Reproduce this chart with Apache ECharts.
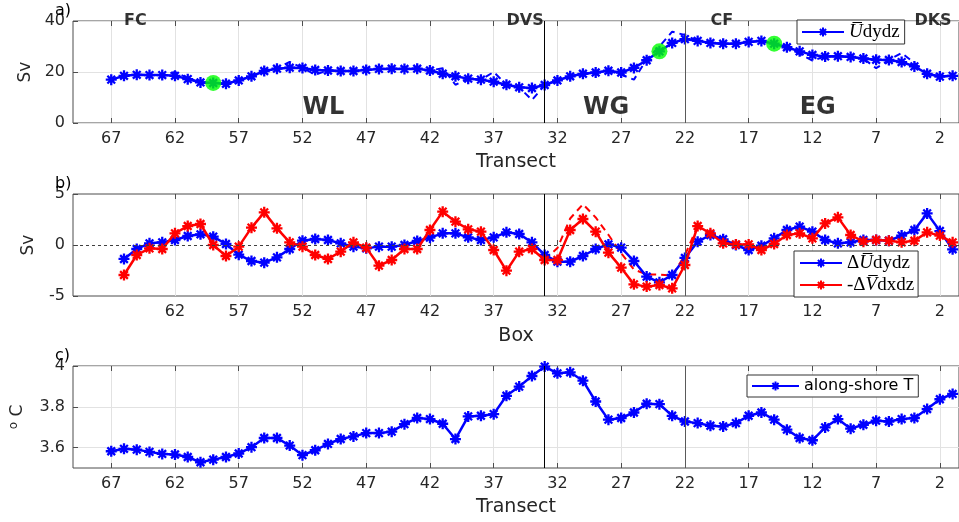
<!DOCTYPE html>
<html><head><meta charset="utf-8">
<script src="https://cdn.jsdelivr.net/npm/echarts@6/dist/echarts.min.js"></script>
<style>html,body{margin:0;padding:0;background:#fff}#c{width:959px;height:522px}</style>
</head><body><div id="c"></div>
<script>
// ---------- data ----------
const transects = [67,66,65,64,63,62,61,60,59,58,57,56,55,54,53,52,51,50,49,48,47,46,45,44,43,42,41,40,39,38,37,36,35,34,33,32,31,30,29,28,27,26,25,24,23,22,21,20,19,18,17,16,15,14,13,12,11,10,9,8,7,6,5,4,3,2,1];
const boxes = [66,65,64,63,62,61,60,59,58,57,56,55,54,53,52,51,50,49,48,47,46,45,44,43,42,41,40,39,38,37,36,35,34,33,32,31,30,29,28,27,26,25,24,23,22,21,20,19,18,17,16,15,14,13,12,11,10,9,8,7,6,5,4,3,2,1];

// panel a: mean transport (Sv), transects 67..1
const Udydz = [17.0,18.5,18.9,18.8,18.8,18.5,17.2,15.9,15.7,15.4,16.7,18.3,20.4,21.3,21.7,21.6,20.8,20.6,20.4,20.4,20.8,21.2,21.3,21.2,21.3,20.6,19.3,18.3,17.4,17.0,16.2,15.0,14.0,13.7,14.9,16.7,18.3,19.3,19.8,20.5,19.8,21.6,24.6,28.1,31.4,32.9,32.2,31.4,31.1,31.1,31.8,32.2,31.1,29.7,28.1,26.7,26.1,26.2,25.9,25.3,24.8,24.7,23.9,22.2,19.3,18.2,18.5];
// panel a: dashed companion line (mostly hidden under the solid line)
const UdydzAlt = [17.0,18.5,18.9,18.8,18.8,20.0,17.6,15.9,15.7,15.4,16.7,18.3,20.4,21.3,24.0,21.6,19.0,20.6,20.4,20.4,20.8,21.2,21.3,21.2,21.3,20.6,21.5,15.0,17.4,17.0,20.0,15.0,14.0,9.0,14.9,16.7,18.3,19.3,19.8,20.5,19.0,17.0,25.0,30.0,35.8,34.5,32.2,31.4,31.1,31.1,31.8,32.2,31.1,29.7,27.0,24.5,26.1,26.2,25.9,25.3,21.5,24.7,27.5,23.5,19.3,18.2,18.5];
// green highlighted transects
const markTransects = [59,24,15];
const markValues = [15.7,28.1,31.1];

// panel b: boxes 66..1
const dUdydz = [-1.37,-0.39,0.16,0.26,0.49,0.88,1.05,0.82,0.10,-0.95,-1.57,-1.73,-1.21,-0.39,0.42,0.59,0.49,0.16,-0.16,-0.33,-0.16,-0.16,0.00,0.39,0.72,1.14,1.14,0.75,0.49,0.75,1.24,1.08,0.26,-0.98,-1.63,-1.63,-1.08,-0.39,0.06,-0.26,-1.57,-3.10,-3.66,-2.94,-1.27,0.33,0.98,0.56,0.00,-0.49,-0.07,0.65,1.47,1.80,1.31,0.49,0.16,0.26,0.49,0.49,0.42,0.92,1.47,3.10,1.37,-0.42];
const dVdxdz = [-2.94,-0.98,-0.33,-0.39,1.14,1.86,2.06,0.00,-1.08,-0.16,1.70,3.20,1.63,0.26,-0.16,-0.98,-1.37,-0.65,0.26,-0.26,-2.03,-1.47,-0.39,-0.39,1.47,3.27,2.29,1.54,1.31,-0.49,-2.52,-0.65,-0.39,-1.47,-1.47,1.47,2.55,1.31,-0.75,-2.22,-3.86,-4.08,-3.92,-4.25,-1.96,1.86,1.14,0.16,0.06,0.06,-0.49,0.10,0.98,1.14,0.65,2.12,2.71,0.98,0.33,0.49,0.42,0.26,0.42,1.24,0.92,0.26];
// dashed companion of the red line
const altBoxes = [33,32,31,30,29,28,27,26,25,24,23,22,21];
const dVdxdzAlt = [-1.47,-0.3,2.6,4.0,2.7,1.0,-0.8,-2.4,-2.9,-2.9,-3.0,-1.0,1.86];

// panel c: along-shore temperature (deg C), transects 67..1
const alongShoreT = [3.582,3.594,3.590,3.579,3.569,3.566,3.554,3.528,3.541,3.554,3.571,3.602,3.647,3.647,3.610,3.563,3.587,3.618,3.642,3.655,3.671,3.671,3.678,3.715,3.745,3.740,3.717,3.642,3.753,3.756,3.764,3.854,3.899,3.951,3.997,3.964,3.969,3.928,3.826,3.737,3.745,3.772,3.815,3.813,3.756,3.728,3.720,3.707,3.704,3.720,3.756,3.772,3.737,3.688,3.647,3.636,3.699,3.740,3.693,3.712,3.732,3.728,3.740,3.745,3.789,3.837,3.863];

// ticks & annotations
const xTicks = [67,62,57,52,47,42,37,32,27,22,17,12,7,2];
const xTicksBox = [62,57,52,47,42,37,32,27,22,17,12,7,2];
const tTicks = [3.6,3.8,4];
const sectionLines = [33,22];
const topNames = ['FC','DVS','CF','DKS'];
const topAt = [66,36,20,4];
const regionNames = ['WL','WG','EG'];
const regionAt = [52,30,13];

// ---------- styles ----------
const FONT = 'DejaVu Sans';
const TXT = '#262626';
const BORDER = '#4d4d4d';
const GRIDC = '#e2e2e2';
const AST = 'path://M5,0L5,10M0,5L10,5M1.5,1.5L8.5,8.5M1.5,8.5L8.5,1.5';
const grids = [
  {left:73, right:0, top:21, height:102},
  {left:73, right:0, top:194, height:102},
  {left:73, right:0, top:366, height:102}
];

function xBottom(gi, ticks, name, gap) {
  return {type:'value', gridIndex:gi, inverse:true, min:0.5, max:70, position:'bottom',
    name:name, nameLocation:'middle', nameGap:gap,
    nameTextStyle:{fontSize:19, color:TXT, fontFamily:FONT},
    axisLine:{show:false},
    axisTick:{show:true, inside:true, length:5, customValues:ticks, lineStyle:{color:BORDER}},
    axisLabel:{customValues:ticks, fontSize:16, color:TXT, margin:8, fontFamily:FONT},
    splitLine:{show:true, lineStyle:{color:GRIDC, width:1}}};
}
function xTop(gi, ticks) {
  return {type:'value', gridIndex:gi, inverse:true, min:0.5, max:70, position:'top',
    axisLine:{show:false},
    axisTick:{show:true, inside:true, length:5, customValues:ticks, lineStyle:{color:BORDER}},
    axisLabel:{show:false}, splitLine:{show:false}};
}
function lineSeries(name, xi, yi, xs, ys, color, extra) {
  return Object.assign({
    type:'line', name:name, xAxisIndex:xi, yAxisIndex:yi,
    data: xs.map((x,i)=>[x, ys[i]]),
    symbol:AST, symbolSize:11, showSymbol:true,
    lineStyle:{color:color, width:2.5},
    itemStyle:{color:color, borderColor:color, borderWidth:2.3},
    emphasis:{disabled:true}, z:3, animation:false
  }, extra||{});
}
function sectionMark() {
  return {silent:true, symbol:'none', label:{show:false},
    data:[{xAxis:sectionLines[0], lineStyle:{color:'#000', width:1, type:'solid'}},
          {xAxis:sectionLines[1], lineStyle:{color:'#5a5a5a', width:1, type:'solid'}}]};
}
function textSeries(names, at, y, size) {
  return {type:'scatter', xAxisIndex:0, yAxisIndex:0, clip:false, silent:true,
    symbolSize:0.1, itemStyle:{color:'rgba(0,0,0,0)'},
    data: names.map((n,i)=>({name:n, value:[at[i], y]})),
    label:{show:true, position:'right', distance:0, formatter:'{b}', color:'#000',
      fontFamily:FONT, fontWeight:'bold', fontSize:size},
    z:10, animation:false};
}

const serif = 'Liberation Serif';
const richSerif = {
  i:{fontFamily:serif, fontStyle:'italic', fontSize:19, lineHeight:22, color:'#000'},
  r:{fontFamily:serif, fontSize:19, lineHeight:22, color:'#000'}
};
const legendBase = {orient:'vertical', borderColor:'#333', borderWidth:1, backgroundColor:'#fff',
  itemGap:0, itemWidth:42, itemHeight:11, selectedMode:false, z:20};

const option = {
  animation:false,
  backgroundColor:'#fff',
  title:[
    {text:'a)', left:55, top:3, padding:0, textStyle:{fontSize:16, fontWeight:'normal', color:'#000', fontFamily:FONT}},
    {text:'b)', left:55, top:176, padding:0, textStyle:{fontSize:16, fontWeight:'normal', color:'#000', fontFamily:FONT}},
    {text:'c)', left:55, top:348, padding:0, textStyle:{fontSize:16, fontWeight:'normal', color:'#000', fontFamily:FONT}}
  ],
  grid: grids.map(g=>Object.assign({show:true, borderColor:BORDER, borderWidth:1, backgroundColor:'#fff', containLabel:false}, g)),
  legend:[
    Object.assign({}, legendBase, {left:797, top:20, padding:[1,5,1,4], data:['Udydz'],
      formatter:()=> '{i|U\u0305}{r|dydz}', textStyle:{lineHeight:22, rich:richSerif}}),
    Object.assign({}, legendBase, {left:794, top:251, padding:[1,4,1,5], data:['dUdydz','dVdxdz'],
      formatter:(n)=> n==='dUdydz' ? '{r|\u0394}{i|U\u0305}{r|dydz}' : '{r|-\u0394}{i|V\u0305}{r|dxdz}',
      textStyle:{lineHeight:22, rich:richSerif}}),
    Object.assign({}, legendBase, {left:747, top:375, padding:[3,5,3,4], itemWidth:47, data:['T'],
      formatter:()=> 'along-shore T', textStyle:{fontSize:16, color:'#000', fontFamily:FONT}})
  ],
  xAxis:[
    xBottom(0, xTicks, 'Transect', 30),
    xBottom(1, xTicksBox, 'Box', 31),
    xBottom(2, xTicks, 'Transect', 30),
    xTop(0, xTicks), xTop(1, xTicksBox), xTop(2, xTicks)
  ],
  yAxis:[
    {type:'value', gridIndex:0, min:0, max:40, interval:20,
      name:'Sv', nameLocation:'middle', nameGap:37, nameTextStyle:{fontSize:17, color:TXT, fontFamily:FONT},
      axisLine:{show:false}, axisTick:{inside:true, length:5, lineStyle:{color:BORDER}},
      axisLabel:{fontSize:16, color:TXT, margin:8, fontFamily:FONT},
      splitLine:{show:true, lineStyle:{color:GRIDC}}},
    {type:'value', gridIndex:1, min:-5, max:5, interval:5,
      name:'Sv', nameLocation:'middle', nameGap:36, nameTextStyle:{fontSize:17, color:TXT, fontFamily:FONT},
      axisLine:{show:false}, axisTick:{inside:true, length:5, lineStyle:{color:BORDER}},
      axisLabel:{fontSize:16, color:TXT, margin:8, fontFamily:FONT},
      splitLine:{show:false}},
    {type:'value', gridIndex:2, min:3.5, max:4,
      name:'{s|o} C', nameLocation:'middle', nameGap:45,
      nameTextStyle:{fontSize:17, color:TXT, fontFamily:FONT, lineHeight:20,
        rich:{s:{fontSize:12, color:TXT, fontFamily:FONT, verticalAlign:'top', lineHeight:20}}},
      axisLine:{show:false}, axisTick:{inside:true, length:5, customValues:tTicks, lineStyle:{color:BORDER}},
      axisLabel:{customValues:tTicks, fontSize:16, color:TXT, margin:8, fontFamily:FONT},
      splitLine:{show:true, lineStyle:{color:GRIDC}}}
  ],
  series:[
    // panel a
    {type:'line', name:'UdydzAlt', xAxisIndex:0, yAxisIndex:0,
      data: transects.map((x,i)=>[x, UdydzAlt[i]]), symbol:'none',
      lineStyle:{color:'#0000ff', width:2, type:[7,5]}, z:2, silent:true, animation:false,
      markLine: sectionMark()},
    lineSeries('Udydz', 0, 0, transects, Udydz, '#0000ff'),
    {type:'scatter', name:'marks', xAxisIndex:0, yAxisIndex:0,
      data: markTransects.map((x,i)=>[x, markValues[i]]),
      symbol:'circle', symbolSize:16, itemStyle:{color:'#00ff00'}, z:4, silent:true, animation:false},
    textSeries(topNames, topAt, 40.2, 16),
    textSeries(regionNames, regionAt, 6, 24),
    // panel b
    lineSeries('dUdydz', 1, 1, boxes, dUdydz, '#0000ff', {
      markLine:{silent:true, symbol:'none', label:{show:false},
        data:[{yAxis:0, lineStyle:{color:'#404040', width:1, type:[3,3]}}].concat(sectionMark().data)}}),
    {type:'line', name:'dVdxdzAlt', xAxisIndex:1, yAxisIndex:1,
      data: altBoxes.map((x,i)=>[x, dVdxdzAlt[i]]), symbol:'none',
      lineStyle:{color:'#ff0000', width:2, type:[7,5]}, z:2, silent:true, animation:false},
    lineSeries('dVdxdz', 1, 1, boxes, dVdxdz, '#ff0000', {z:4}),
    // panel c
    lineSeries('T', 2, 2, transects, alongShoreT, '#0000ff', {markLine: sectionMark()})
  ]
};
const chart = echarts.init(document.getElementById('c'), null, {renderer:'canvas'});
chart.setOption(option);
</script>
</body></html>
